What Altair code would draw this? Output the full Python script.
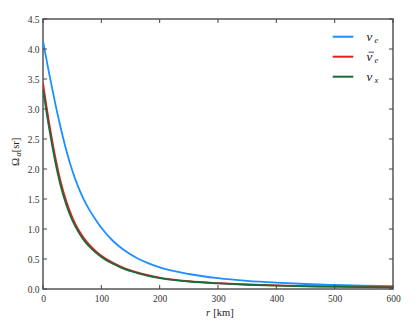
import altair as alt
import pandas as pd

# ---- data ----
r_km = [0, 10, 20, 30, 40, 50, 60, 70, 80, 90, 100, 120, 140, 160, 180, 200,
        250, 300, 350, 400, 450, 500, 550, 600]
nu_e = [4.13, 3.62, 3.14, 2.70, 2.31, 1.98, 1.71, 1.49, 1.31, 1.16, 1.02, 0.80,
        0.64, 0.52, 0.43, 0.36, 0.25, 0.18, 0.135, 0.105, 0.083, 0.067, 0.055, 0.046]
nubar_e = [3.43, 2.80, 2.25, 1.80, 1.46, 1.20, 1.00, 0.85, 0.73, 0.635, 0.555, 0.435,
           0.345, 0.28, 0.23, 0.19, 0.13, 0.098, 0.075, 0.059, 0.048, 0.040, 0.034, 0.029]
nu_x = [3.33, 2.71, 2.17, 1.73, 1.40, 1.15, 0.96, 0.815, 0.70, 0.61, 0.535, 0.42,
        0.33, 0.27, 0.22, 0.18, 0.125, 0.093, 0.071, 0.056, 0.045, 0.038, 0.032, 0.027]

series_names = ["nu_e", "nubar_e", "nu_x"]
series_values = [nu_e, nubar_e, nu_x]
series_colors = ["#1e8fff", "#e0201c", "#1a6b3c"]
legend_main = ["ν", "ν", "ν"]
legend_bar = [False, True, False]
legend_sub = ["e", "e", "x"]

x_ticks = [0, 100, 200, 300, 400, 500, 600]
y_ticks = [0.0, 0.5, 1.0, 1.5, 2.0, 2.5, 3.0, 3.5, 4.0, 4.5]

FONT = "Liberation Serif"
W, H = 350, 270
XMAX, YMAX = 600, 4.5

xscale = alt.Scale(domain=[0, XMAX], nice=False, zero=False)
yscale = alt.Scale(domain=[0, YMAX], nice=False, zero=False)

x_axis = alt.Axis(values=x_ticks, title=None, ticks=False, domain=False, grid=False,
                  labelFont=FONT, labelFontSize=9.5, labelPadding=4, labelColor="#333",
                  labelFlush=False, labelOverlap=False)
y_axis = alt.Axis(values=y_ticks, format=".1f", title=None, ticks=False, domain=False,
                  grid=False, labelFont=FONT, labelFontSize=9.5, labelPadding=4,
                  labelColor="#333", labelFlush=False, labelOverlap=False)

layers = []
for name, vals, col in zip(series_names, series_values, series_colors):
    d = pd.DataFrame({"r": r_km, "omega": vals})
    layers.append(
        alt.Chart(d).mark_line(color=col, strokeWidth=1.8, interpolate="monotone",
                               clip=True).encode(
            x=alt.X("r:Q", scale=xscale, axis=x_axis),
            y=alt.Y("omega:Q", scale=yscale, axis=y_axis),
        )
    )

# inward ticks on all four sides
tx = 4 * XMAX / W
ty = 4 * YMAX / H
tick_rows = []
for t in x_ticks:
    tick_rows.append({"r": t, "r2": t, "omega": 0, "omega2": ty})
    tick_rows.append({"r": t, "r2": t, "omega": YMAX, "omega2": YMAX - ty})
for t in y_ticks:
    tick_rows.append({"r": 0, "r2": tx, "omega": t, "omega2": t})
    tick_rows.append({"r": XMAX, "r2": XMAX - tx, "omega": t, "omega2": t})
ticks = alt.Chart(pd.DataFrame(tick_rows)).mark_rule(color="#444", strokeWidth=1).encode(
    x=alt.X("r:Q", scale=xscale, axis=x_axis), x2="r2:Q",
    y=alt.Y("omega:Q", scale=yscale, axis=y_axis), y2="omega2:Q")
layers.append(ticks)


def txt(s, x, y, size, style="normal", angle=0, align="center"):
    kw = dict(font=FONT, fontSize=size, fontStyle=style, color="#222", align=align,
              baseline="middle")
    if angle:
        kw["angle"] = angle
    return alt.Chart().mark_text(**kw).encode(x=alt.value(x), y=alt.value(y),
                                                 text=alt.value(s))


# axis titles
layers.append(txt("Ω", -27, 143, 11, angle=270))
layers.append(txt("α", -24.5, 135.5, 8, style="italic", angle=270))
layers.append(txt("[sr]", -27, 126, 10.5, angle=270))
layers.append(txt("r", 165, 294, 10.5, style="italic"))
layers.append(txt("[km]", 180.5, 294, 10.5))

# legend
for i, (col, m, b, s) in enumerate(zip(series_colors, legend_main, legend_bar, legend_sub)):
    yy = 17.7 + 20 * i
    layers.append(alt.Chart().mark_rule(color=col, strokeWidth=2).encode(
        x=alt.value(289.7), x2=alt.value(310.3), y=alt.value(yy)))
    layers.append(txt(m, 323.5, yy, 13, style="italic", align="left"))
    if b:
        layers.append(alt.Chart().mark_rule(color="#222", strokeWidth=0.8).encode(
            x=alt.value(325.5), x2=alt.value(331), y=alt.value(yy - 4.5)))
    layers.append(txt(s, 331.5, yy + 3.5, 8.5, style="italic", align="left"))

chart = alt.layer(*layers).properties(
    width=W, height=H,
    autosize=alt.AutoSizeParams(type="none"),
    padding={"left": 35, "top": 11, "right": 12, "bottom": 30},
).configure(background="white", font=FONT).configure_axis(
    labelFont=FONT).configure_view(stroke="#555", strokeWidth=1.5)

chart.save("out.html", embed_options={"renderer": "svg", "actions": False})
